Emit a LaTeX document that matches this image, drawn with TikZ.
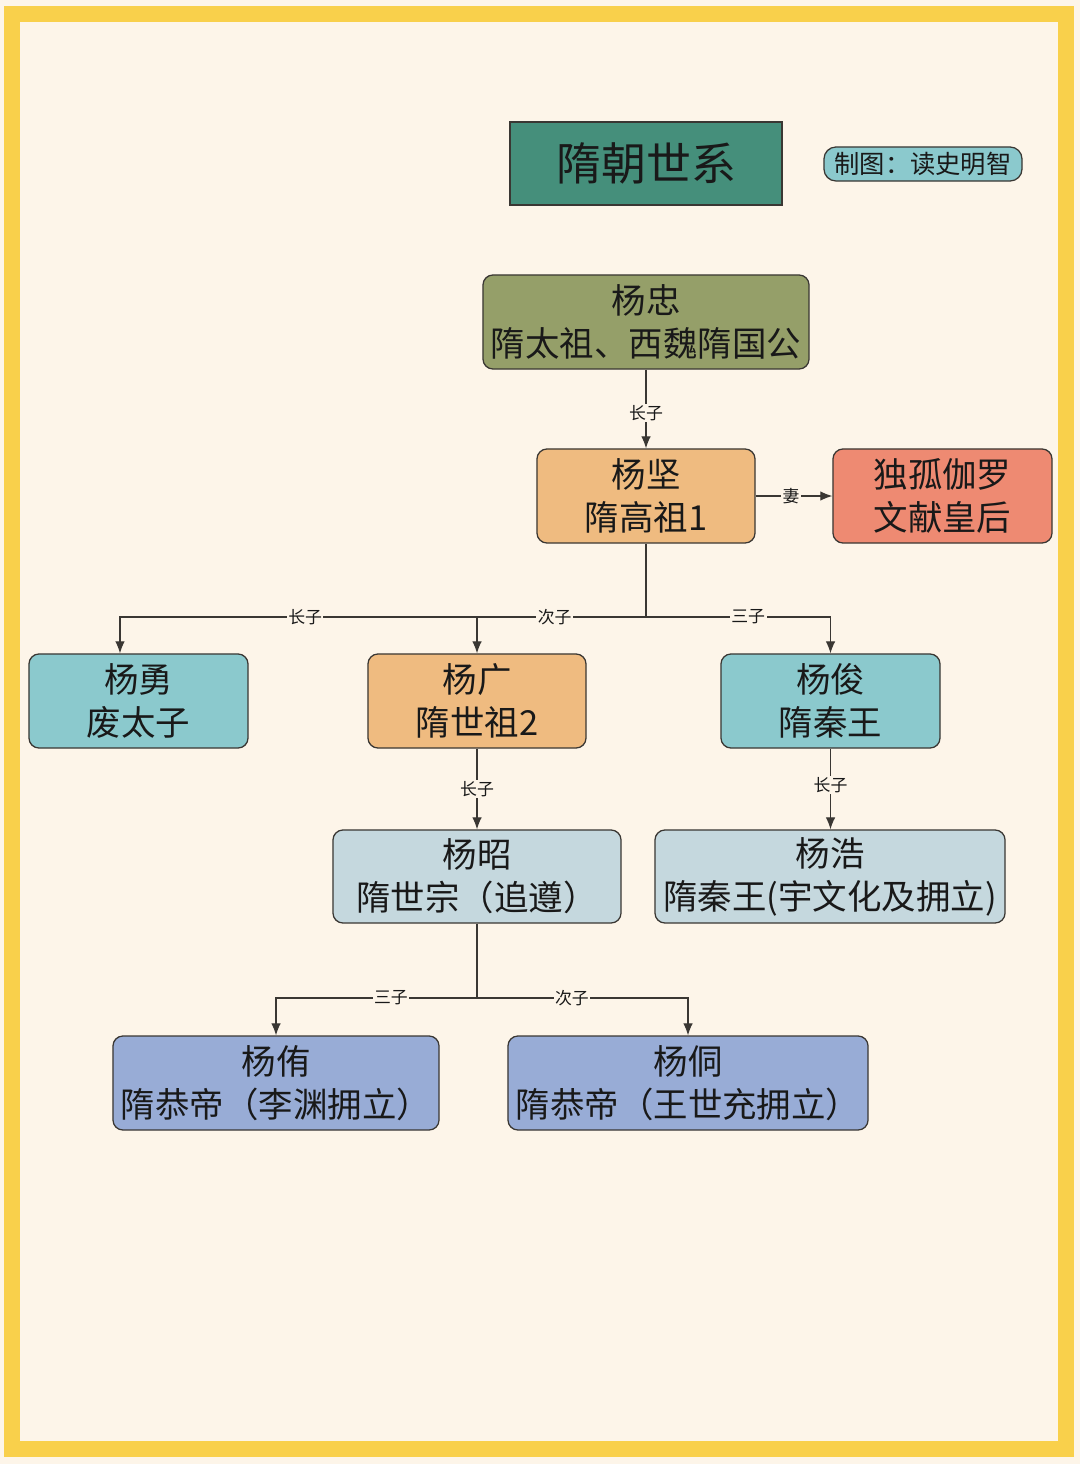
\documentclass[tikz,border=0pt]{standalone}
\usepackage{fontspec}
\newfontfamily\cjk{Noto Sans CJK SC}
\usetikzlibrary{arrows.meta,positioning,calc}

\definecolor{paper}{HTML}{FDF5E9}
\definecolor{frameyellow}{HTML}{F9D04B}
\definecolor{titlegreen}{HTML}{458F7B}
\definecolor{olive}{HTML}{959F69}
\definecolor{apricot}{HTML}{EFBB80}
\definecolor{salmon}{HTML}{EE8A72}
\definecolor{aqua}{HTML}{8BC9CD}
\definecolor{mist}{HTML}{C5D8DE}
\definecolor{periwinkle}{HTML}{98ACD6}
\definecolor{edgegray}{HTML}{3A3733}

\begin{document}
\begin{tikzpicture}[
				      x=0.025cm, y=-0.025cm,
				      every node/.style={align=center, font=\cjk, text=black!90},
				      person/.style={draw=edgegray, line width=0.9pt, rounded corners=0.25cm, minimum height=2.35cm, inner sep=0pt,
				                     font=\cjk\fontsize{24.5pt}{30.5pt}\selectfont},
				      relation/.style={fill=paper, inner sep=1pt, font=\cjk\fontsize{12pt}{14pt}\selectfont},
				      link/.style={draw=edgegray, line width=0.85pt},
				      childarrow/.style={link, -{Latex[length=0.3cm, width=0.24cm]}}   % Style for arrows down to children
			      ]

			      % Paper and frame
			      \fill[paper] (0,0) rectangle (1080,1464);
			      \useasboundingbox (0,0) rectangle (1080,1464);
			      \draw[frameyellow, line width=0.4cm] (12,14) rectangle (1066,1449);

			      % Title and credit
			      \node[draw=edgegray, fill=titlegreen, line width=0.9pt, minimum width=6.8cm, minimum height=2.075cm,
			            font=\cjk\fontsize{32pt}{36pt}\selectfont] (title) at (646,163.5) {隋朝世系};
			      \node[draw=edgegray, fill=aqua, line width=0.9pt, rounded corners=0.3cm, minimum width=4.95cm, minimum height=0.85cm,
			            inner sep=0pt, font=\cjk\fontsize{18pt}{20pt}\selectfont] (credit) at (923,164) {制图：读史明智};

			      % Generations
			      \node[person, fill=olive, minimum width=8.15cm] (zhong) at (646,322) {杨忠\\隋太祖、西魏隋国公};
			      \node[person, fill=apricot, minimum width=5.45cm] (jian) at (646,496) {杨坚\\隋高祖1};
			      \node[person, fill=salmon, minimum width=5.475cm] (dugu) at (942.5,496) {独孤伽罗\\文献皇后};
			      \node[person, fill=aqua, minimum width=5.475cm] (yong) at (138.5,701) {杨勇\\废太子};
			      \node[person, fill=apricot, minimum width=5.45cm] (guang) at (477,701) {杨广\\隋世祖2};
			      \node[person, fill=aqua, minimum width=5.475cm] (jun) at (830.5,701) {杨俊\\隋秦王};
			      \node[person, fill=mist, minimum width=7.2cm, minimum height=2.325cm] (zhao) at (477,876.5) {杨昭\\隋世宗（追遵）};
			      \node[person, fill=mist, minimum width=8.75cm, minimum height=2.325cm] (hao) at (830,876.5) {杨浩\\隋秦王(宇文化及拥立)};
			      \node[person, fill=periwinkle, minimum width=8.15cm] (you) at (276,1083) {杨侑\\隋恭帝（李渊拥立）};
			      \node[person, fill=periwinkle, minimum width=9cm] (tong) at (688,1083) {杨侗\\隋恭帝（王世充拥立）};

			      % Branch points
			      \coordinate (jianfork) at (646,617);
			      \coordinate (zhaofork) at (477,998);

			      \draw[childarrow] (zhong) -- node[relation, pos=0.55] {长子} (jian);
			      \draw[childarrow] (jian) -- node[relation, pos=0.46] {妻} (dugu);

			      \draw[link] (jian) -- (jianfork);
			      \draw[childarrow] (jianfork) -| node[relation, pos=0.324] {长子} ([xshift=-0.4625cm]yong.north);
			      \draw[childarrow] (jianfork) -| node[relation, pos=0.27] {次子} (guang.north);
			      \draw[childarrow] (jianfork) -| node[relation, pos=0.277] {三子} (jun.north);

			      \draw[childarrow] (guang) -- node[relation, midway] {长子} (zhao);
			      \draw[childarrow] (jun.south) -- node[relation, pos=0.45] {长子} (jun.south |- hao.north);

			      \draw[link] (zhao) -- (zhaofork);
			      \draw[childarrow] (zhaofork) -| node[relation, pos=0.214] {三子} (you.north);
			      \draw[childarrow] (zhaofork) -| node[relation, pos=0.225] {次子} (tong.north);
		      \end{tikzpicture}
\end{document}
